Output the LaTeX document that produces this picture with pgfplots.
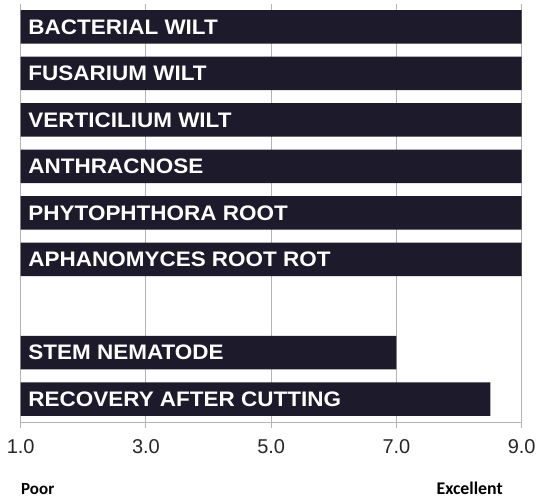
\documentclass[border=0pt]{standalone}
\usepackage{pgfplots}
\pgfplotsset{compat=1.18}
\usepackage{fontspec}
\setmainfont{Liberation Sans}
\newfontfamily\barfont{Liberation Sans}[FakeStretch=1.07]
\newfontfamily\calfont{Carlito}
\definecolor{barcol}{RGB}{28,26,43}
\definecolor{gridcol}{RGB}{180,180,180}
\begin{document}
\begin{tikzpicture}
\path[use as bounding box] (-20.7bp,-75.7bp) rectangle (515.3bp,422.3bp);
\begin{axis}[
  name=ax,
  at={(0,0)}, anchor=south west,
  scale only axis, width=501bp, height=418.8bp,
  xmin=1, xmax=9, ymin=-0.5, ymax=8.5, y dir=reverse,
  xtick={1,3,5,7,9},
  xticklabel={\pgfmathprintnumber[fixed,fixed zerofill,precision=1,assume math mode=true]{\tick}},
  axis x line*=bottom, axis y line=none,
  x axis line style={gridcol, line width=1bp, -},
  xmajorgrids, major grid style={gridcol, line width=1bp},
  tick style={gridcol, line width=1bp}, major tick length=6bp, tick align=outside,
  ticklabel style={font=\fontsize{20bp}{24bp}\selectfont, text=black!85},
  xticklabel style={yshift=-8bp},
  xbar, bar width=0.72,
]
\addplot[fill=barcol, draw=none] coordinates {
  (9,0) (9,1) (9,2) (9,3) (9,4) (9,5) (7,7) (8.5,8)
};
\tikzset{bl/.style={anchor=west, text=white, inner sep=0pt, xshift=7.6bp, font=\barfont\bfseries\fontsize{21bp}{24bp}\selectfont}}
\node[bl] at (axis cs:1,0) {BACTERIAL WILT};
\node[bl] at (axis cs:1,1) {FUSARIUM WILT};
\node[bl] at (axis cs:1,2) {VERTICILIUM WILT};
\node[bl] at (axis cs:1,3) {ANTHRACNOSE};
\node[bl] at (axis cs:1,4) {PHYTOPHTHORA ROOT};
\node[bl] at (axis cs:1,5) {APHANOMYCES ROOT ROT};
\node[bl] at (axis cs:1,7) {STEM NEMATODE};
\node[bl] at (axis cs:1,8) {RECOVERY AFTER CUTTING};
\end{axis}
\node[anchor=base west, inner sep=0pt, font=\calfont\bfseries\fontsize{17bp}{20bp}\selectfont, text=black] at ([xshift=0.3bp, yshift=-72.2bp]ax.south west) {Poor};
\node[anchor=base east, inner sep=0pt, font=\calfont\bfseries\fontsize{17.8bp}{20bp}\selectfont, text=black] at ([xshift=-18.8bp, yshift=-72.2bp]ax.south east) {Excellent};
\end{tikzpicture}
\end{document}
